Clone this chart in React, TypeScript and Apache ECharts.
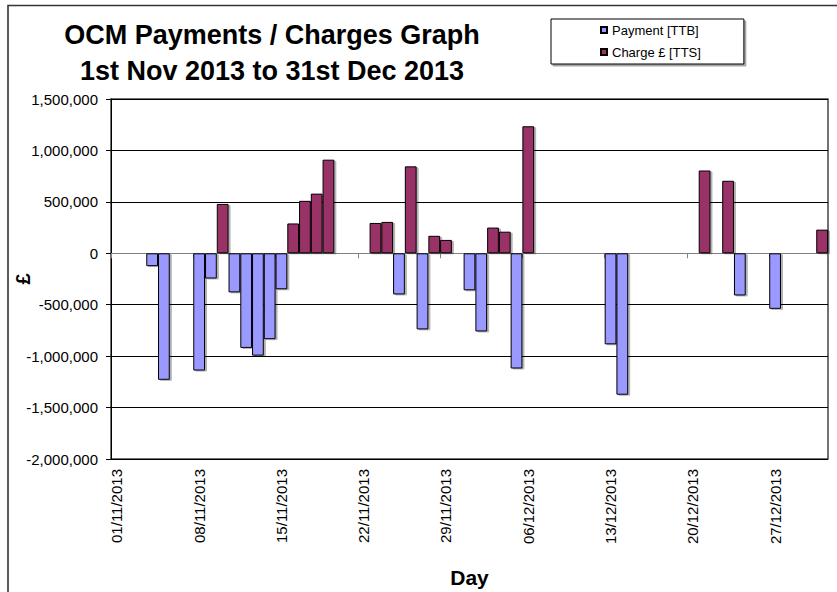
import React, { useEffect, useRef } from "react";
import * as echarts from "echarts";

const FONT = "'Liberation Sans', Arial, Helvetica, sans-serif";

const days: string[] = [
  "01/11/2013", "02/11/2013", "03/11/2013", "04/11/2013", "05/11/2013", "06/11/2013", "07/11/2013",
  "08/11/2013", "09/11/2013", "10/11/2013", "11/11/2013", "12/11/2013", "13/11/2013", "14/11/2013",
  "15/11/2013", "16/11/2013", "17/11/2013", "18/11/2013", "19/11/2013", "20/11/2013", "21/11/2013",
  "22/11/2013", "23/11/2013", "24/11/2013", "25/11/2013", "26/11/2013", "27/11/2013", "28/11/2013",
  "29/11/2013", "30/11/2013", "01/12/2013", "02/12/2013", "03/12/2013", "04/12/2013", "05/12/2013",
  "06/12/2013", "07/12/2013", "08/12/2013", "09/12/2013", "10/12/2013", "11/12/2013", "12/12/2013",
  "13/12/2013", "14/12/2013", "15/12/2013", "16/12/2013", "17/12/2013", "18/12/2013", "19/12/2013",
  "20/12/2013", "21/12/2013", "22/12/2013", "23/12/2013", "24/12/2013", "25/12/2013", "26/12/2013",
  "27/12/2013", "28/12/2013", "29/12/2013", "30/12/2013", "31/12/2013",
];

const payment: (number | null)[] = [
  null, null, null, -125000, -1230000, null, null,
  -1140000, -245000, null, -380000, -920000, -995000, -835000,
  -350000, null, null, null, null, null, null,
  null, null, null, -400000, null, -740000, null,
  null, null, -360000, -760000, null, null, -1120000,
  null, null, null, null, null, null, null,
  -885000, -1375000, null, null, null, null, null,
  null, null, null, null, -410000, null, null,
  -540000, null, null, null, null,
];

const charge: (number | null)[] = [
  null, null, null, null, null, null, null,
  null, null, 480000, null, null, null, null,
  null, 290000, 510000, 580000, 910000, null, null,
  null, 295000, 305000, null, 845000, null, 170000,
  130000, null, null, null, 250000, 210000, null,
  1235000, null, null, null, null, null, null,
  null, null, null, null, null, null, null,
  null, 805000, null, 705000, null, null, null,
  null, null, null, null, 230000,
];

const seriesNames = ["Payment [TTB]", "Charge £ [TTS]"];
const titleLines = ["OCM Payments / Charges Graph", "1st Nov 2013 to 31st Dec 2013"];
const xTitle = "Day";
const yTitle = "£";
const yMin = -2000000;
const yMax = 1500000;
const yStep = 500000;

const fmt = (v: number) => String(v).replace(/\B(?=(\d{3})+(?!\d))/g, ",");

export default function App() {
  const ref = useRef<HTMLDivElement>(null);
  useEffect(() => {
    document.body.style.margin = "0";
    if (!ref.current) return;
    const chart = echarts.init(ref.current, undefined, { renderer: "svg" });
    const barShadow = {
      shadowColor: "rgba(0,0,0,0.3)",
      shadowOffsetX: 2,
      shadowOffsetY: 1,
      shadowBlur: 0,
    };
    chart.setOption({
      animation: false,
      backgroundColor: "#ffffff",
      textStyle: { fontFamily: FONT },
      graphic: [
        {
          type: "rect",
          shape: { x: 8, y: 5.5, width: 900, height: 700 },
          style: { fill: "none", stroke: "#333333", lineWidth: 1.6 },
          silent: true,
          z: 0,
        },
        {
          type: "text",
          x: 272,
          y: 35,
          style: {
            text: titleLines[0],
            font: `bold 27px ${FONT}`,
            fill: "#000",
            textAlign: "center",
            textVerticalAlign: "middle",
          },
        },
        {
          type: "text",
          x: 272,
          y: 70.5,
          style: {
            text: titleLines[1],
            font: `bold 27px ${FONT}`,
            fill: "#000",
            textAlign: "center",
            textVerticalAlign: "middle",
          },
        },
      ],
      legend: {
        data: seriesNames,
        orient: "vertical",
        left: 551,
        top: 19,
        padding: [4, 43, 5, 49],
        itemGap: 8,
        itemWidth: 6,
        itemHeight: 6,
        borderColor: "#000",
        borderWidth: 1,
        backgroundColor: "#fff",
        shadowColor: "rgba(0,0,0,0.35)",
        shadowOffsetX: 2,
        shadowOffsetY: 2,
        shadowBlur: 0,
        icon: "rect",
        textStyle: { fontSize: 13, color: "#000", fontFamily: FONT, lineHeight: 14 },
      },
      grid: {
        left: 111,
        right: 9,
        top: 99,
        bottom: 133,
        show: true,
        borderColor: "#444444",
        borderWidth: 1.5,
        containLabel: false,
        outerBoundsMode: "none",
      },
      xAxis: [
        {
          type: "category",
          data: days,
          position: "bottom",
          boundaryGap: true,
          axisLine: { show: false, onZero: false },
          axisTick: { show: false },
          axisLabel: {
            interval: 6,
            rotate: 90,
            margin: 10,
            fontSize: 15,
            color: "#000",
            fontFamily: FONT,
          },
          splitLine: { show: false },
          name: xTitle,
          nameLocation: "middle",
          nameGap: 108,
          nameTextStyle: { fontSize: 21, fontWeight: "bold", color: "#000", fontFamily: FONT },
        },
        {
          type: "category",
          data: days,
          position: "bottom",
          boundaryGap: true,
          axisLine: { show: true, onZero: true, lineStyle: { color: "#808080", width: 1 } },
          axisTick: { show: true, interval: 6, length: 5, lineStyle: { color: "#808080" } },
          axisLabel: { show: false },
          splitLine: { show: false },
        },
      ],
      yAxis: {
        type: "value",
        min: yMin,
        max: yMax,
        interval: yStep,
        axisLine: { show: true, lineStyle: { color: "#000", width: 1 } },
        axisTick: { show: true, length: 5, lineStyle: { color: "#000" } },
        axisLabel: {
          formatter: (v: number) => fmt(v),
          fontSize: 15,
          color: "#000",
          margin: 13,
          fontFamily: FONT,
        },
        splitLine: { show: true, lineStyle: { color: "#000", width: 1 } },
        name: yTitle,
        nameLocation: "middle",
        nameGap: 78,
        nameRotate: 90,
        nameMoveOverlap: false,
        nameTextStyle: { fontSize: 20, fontWeight: "bold", color: "#000", fontFamily: FONT },
      },
      series: [
        {
          name: seriesNames[0],
          type: "bar",
          xAxisIndex: 0,
          data: payment,
          barGap: "-100%",
          barWidth: "100%",
          itemStyle: { color: "#9999FF", borderColor: "#000", borderWidth: 1, ...barShadow },
          z: 3,
        },
        {
          name: seriesNames[1],
          type: "bar",
          xAxisIndex: 0,
          data: charge,
          barGap: "-100%",
          barWidth: "100%",
          itemStyle: { color: "#993366", borderColor: "#000", borderWidth: 1, ...barShadow },
          z: 3,
        },
      ],
    });
    return () => chart.dispose();
  }, []);
  return <div ref={ref} style={{ width: 837, height: 592 }} />;
}
